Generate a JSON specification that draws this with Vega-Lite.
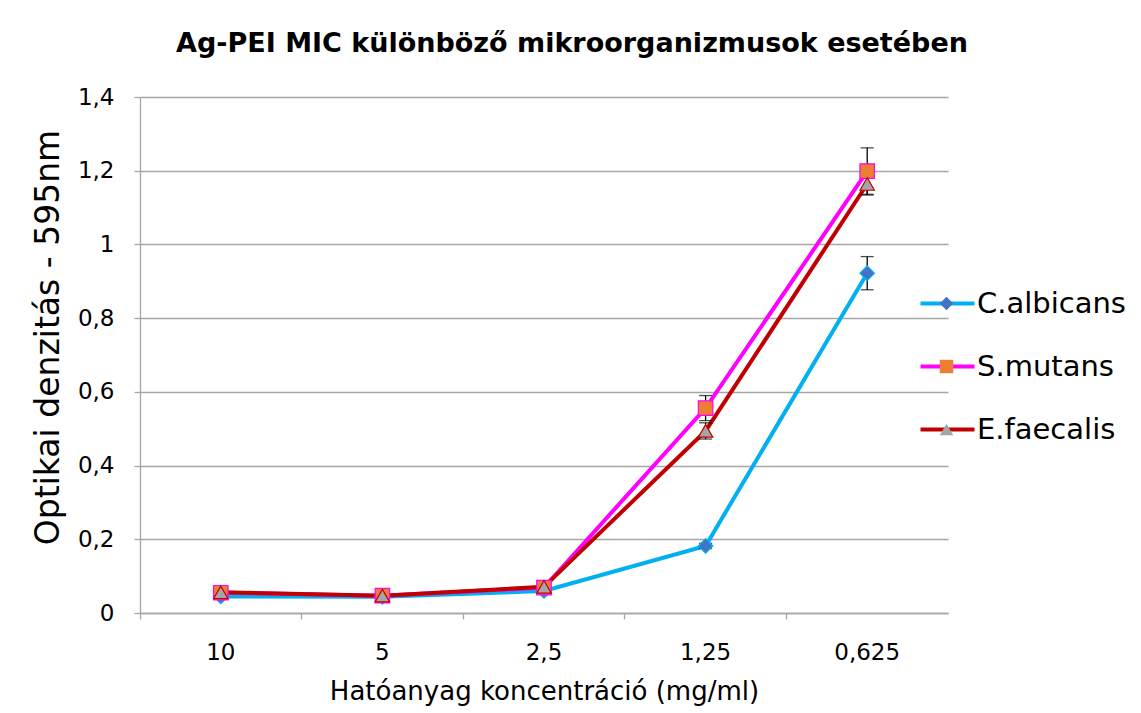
{
  "$schema": "https://vega.github.io/schema/vega-lite/v6.json",
  "width": 808,
  "height": 516,
  "autosize": {"type": "none"},
  "padding": {"left": 140, "top": 97, "right": 193, "bottom": 100},
  "background": "white",
  "title": {"text": "Ag-PEI MIC különböző mikroorganizmusok esetében", "font": "DejaVu Sans", "fontSize": 27, "fontWeight": "bold", "color": "black", "anchor": "middle", "dx": 28, "offset": 28},
  "config": {"view": {"stroke": null}, "font": "DejaVu Sans"},
  "data": {"values": [
    {"conc": "10", "series": "C.albicans", "od": 0.045, "lo": 0.041, "hi": 0.049},
    {"conc": "5", "series": "C.albicans", "od": 0.044, "lo": 0.040, "hi": 0.048},
    {"conc": "2,5", "series": "C.albicans", "od": 0.06, "lo": 0.056, "hi": 0.064},
    {"conc": "1,25", "series": "C.albicans", "od": 0.182, "lo": 0.175, "hi": 0.189},
    {"conc": "0,625", "series": "C.albicans", "od": 0.922, "lo": 0.877, "hi": 0.967},
    {"conc": "10", "series": "S.mutans", "od": 0.055, "lo": 0.051, "hi": 0.059},
    {"conc": "5", "series": "S.mutans", "od": 0.047, "lo": 0.043, "hi": 0.051},
    {"conc": "2,5", "series": "S.mutans", "od": 0.069, "lo": 0.065, "hi": 0.073},
    {"conc": "1,25", "series": "S.mutans", "od": 0.556, "lo": 0.522, "hi": 0.590},
    {"conc": "0,625", "series": "S.mutans", "od": 1.199, "lo": 1.136, "hi": 1.262},
    {"conc": "10", "series": "E.faecalis", "od": 0.056, "lo": 0.052, "hi": 0.060},
    {"conc": "5", "series": "E.faecalis", "od": 0.047, "lo": 0.043, "hi": 0.051},
    {"conc": "2,5", "series": "E.faecalis", "od": 0.071, "lo": 0.067, "hi": 0.075},
    {"conc": "1,25", "series": "E.faecalis", "od": 0.494, "lo": 0.472, "hi": 0.516},
    {"conc": "0,625", "series": "E.faecalis", "od": 1.164, "lo": 1.134, "hi": 1.194}
  ]},
  "encoding": {
    "x": {
      "field": "conc", "type": "nominal",
      "sort": ["10", "5", "2,5", "1,25", "0,625"],
      "scale": {"type": "band", "paddingInner": 0, "paddingOuter": 0},
      "title": "Hatóanyag koncentráció (mg/ml)",
      "axis": {"labelAngle": 0, "bandPosition": 0, "grid": false, "domainColor": "#A6A6A6", "domainWidth": 1.3, "tickColor": "#A6A6A6", "tickWidth": 1.3, "tickSize": 6, "labelFont": "DejaVu Sans", "labelFontSize": 23, "labelColor": "black", "labelPadding": 22, "titleFont": "DejaVu Sans", "titleFontSize": 26, "titleFontWeight": "normal", "titleColor": "black", "titlePadding": 14}
    }
  },
  "layer": [
    {
      "mark": {"type": "line", "strokeWidth": 4},
      "encoding": {
        "y": {"field": "od", "type": "quantitative", "title": "Optikai denzitás - 595nm",
          "scale": {"domain": [0, 1.4], "nice": false},
          "axis": {"values": [0, 0.2, 0.4, 0.6, 0.8, 1, 1.2, 1.4], "labelExpr": "replace(format(datum.value, '.1~f'), '.', ',')", "gridColor": "#A6A6A6", "gridWidth": 1.3, "domainColor": "#A6A6A6", "domainWidth": 1.3, "tickColor": "#A6A6A6", "tickWidth": 1.3, "tickSize": 6, "labelFont": "DejaVu Sans", "labelFontSize": 23, "labelColor": "black", "labelPadding": 20, "titleFont": "DejaVu Sans", "titleFontSize": 33, "titleFontWeight": "normal", "titleColor": "black", "titlePadding": 12, "titleY": 240}},
        "stroke": {"field": "series", "type": "nominal",
          "scale": {"domain": ["C.albicans", "S.mutans", "E.faecalis"], "range": ["#00B0F0", "#FF00FF", "#C00000"]},
          "legend": {"orient": "none", "legendX": 793, "legendY": 192, "title": null, "symbolType": "M-4.5,0H4.5", "symbolSize": 144, "symbolStrokeWidth": 4, "symbolFillColor": "transparent", "labelFont": "DejaVu Sans", "labelFontSize": 29, "labelColor": "black", "labelOffset": 15, "rowPadding": 33, "padding": 0, "labelLimit": 300}}
      }
    },
    {
      "mark": {"type": "rule", "color": "black", "strokeWidth": 1.3},
      "encoding": {
        "y": {"field": "lo", "type": "quantitative", "title": "Optikai denzitás - 595nm"},
        "y2": {"field": "hi"}
      }
    },
    {
      "mark": {"type": "tick", "color": "black", "size": 13, "thickness": 1.3},
      "encoding": {"y": {"field": "lo", "type": "quantitative", "title": "Optikai denzitás - 595nm"}}
    },
    {
      "mark": {"type": "tick", "color": "black", "size": 13, "thickness": 1.3},
      "encoding": {"y": {"field": "hi", "type": "quantitative", "title": "Optikai denzitás - 595nm"}}
    },
    {
      "mark": {"type": "point", "filled": true, "size": 210, "strokeWidth": 1.2, "opacity": 1},
      "encoding": {
        "y": {"field": "od", "type": "quantitative", "title": "Optikai denzitás - 595nm"},
        "stroke": {"field": "series", "type": "nominal", "legend": null},
        "fill": {"field": "series", "type": "nominal",
          "scale": {"range": ["#4472C4", "#A5A5A5", "#ED7D31"]},
          "legend": {"orient": "none", "legendX": 792, "legendY": 192, "title": null, "values": ["C.albicans", "S.mutans", "E.faecalis"], "symbolSize": 180, "symbolStrokeWidth": 0, "labelFont": "DejaVu Sans", "labelFontSize": 29, "labelOpacity": 0, "labelOffset": 15, "rowPadding": 33, "padding": 0, "labelLimit": 300}},
        "shape": {"field": "series", "type": "nominal",
          "scale": {"range": ["diamond", "triangle-up", "square"]},
          "legend": {"orient": "none", "legendX": 792, "legendY": 192, "title": null, "values": ["C.albicans", "S.mutans", "E.faecalis"], "symbolSize": 180, "symbolStrokeWidth": 0, "labelFont": "DejaVu Sans", "labelFontSize": 29, "labelOpacity": 0, "labelOffset": 15, "rowPadding": 33, "padding": 0, "labelLimit": 300}}
      }
    }
  ]
}
